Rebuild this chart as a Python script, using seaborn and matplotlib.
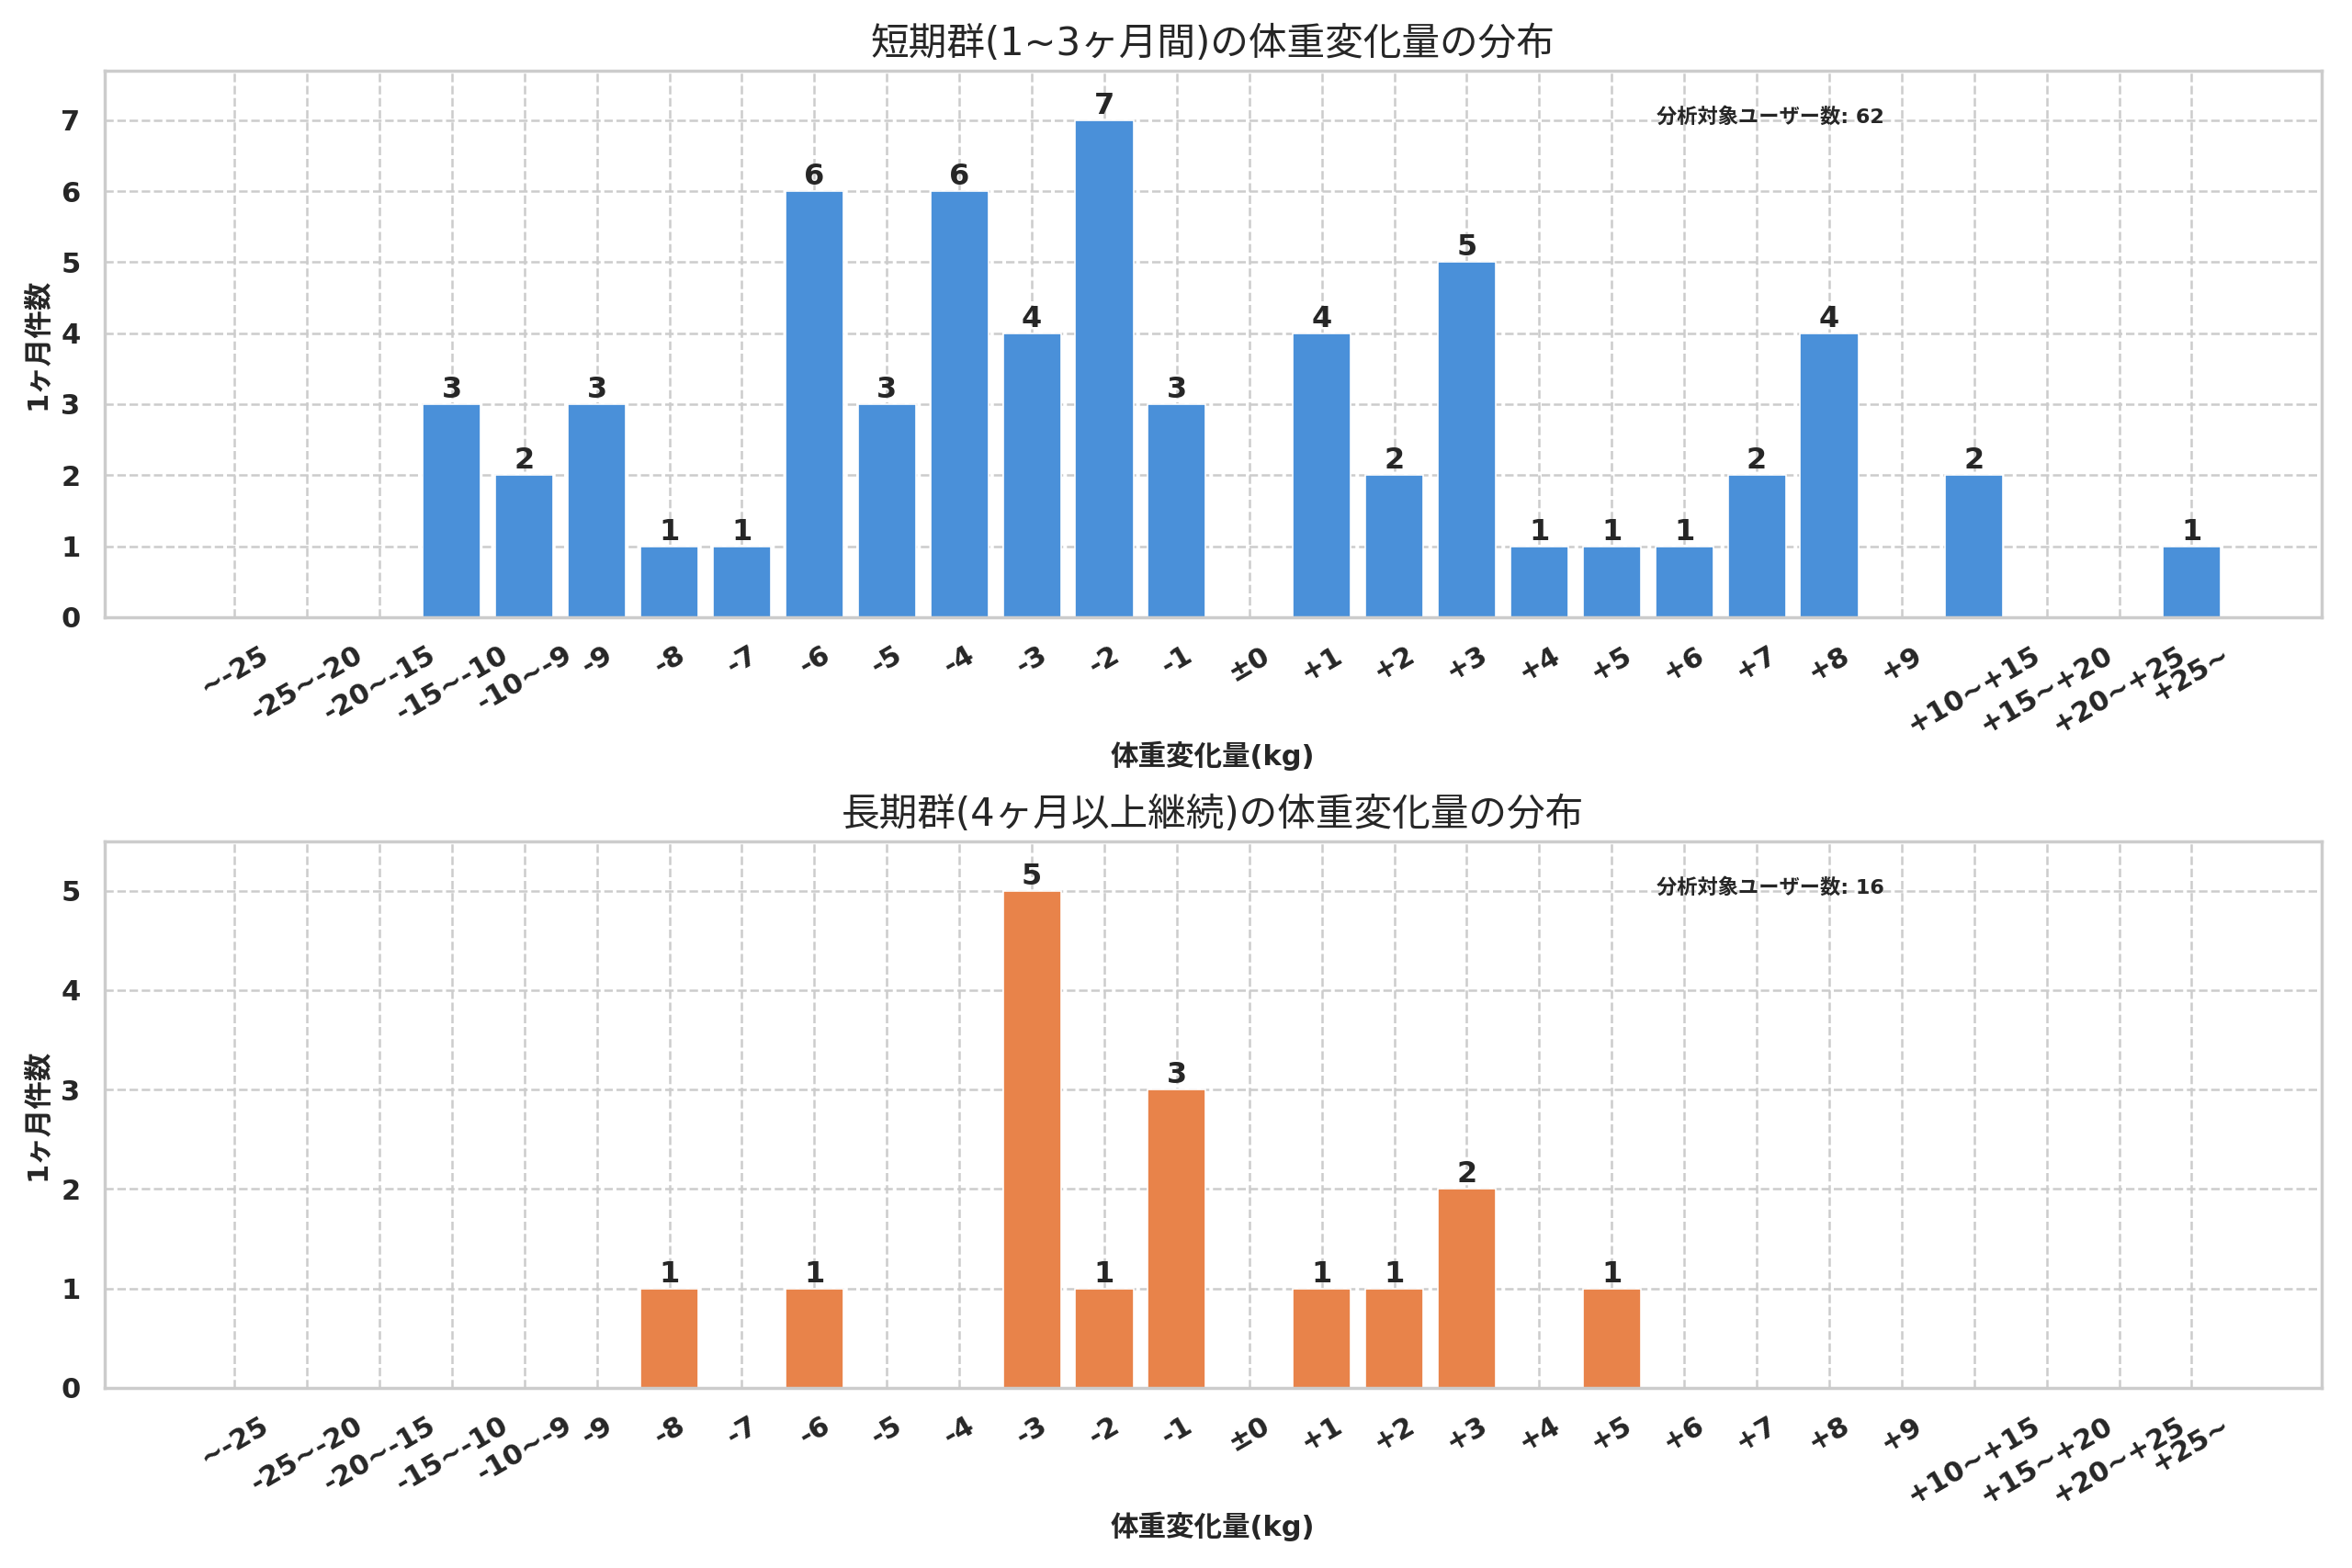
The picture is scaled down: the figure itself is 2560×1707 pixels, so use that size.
import matplotlib
matplotlib.use('Agg')
import matplotlib.pyplot as plt
import seaborn as sns

sns.set_theme(style='whitegrid')
plt.rcParams['font.family'] = ['DejaVu Sans', 'Noto Sans CJK JP']

# bins of weight change (kg)
bins = ['~-25', '-25~-20', '-20~-15', '-15~-10', '-10~-9', '-9', '-8', '-7',
        '-6', '-5', '-4', '-3', '-2', '-1', '±0', '+1', '+2', '+3', '+4',
        '+5', '+6', '+7', '+8', '+9', '+10~+15', '+15~+20', '+20~+25', '+25~']

# counts per bin
short_counts = [0, 0, 0, 3, 2, 3, 1, 1, 6, 3, 6, 4, 7, 3, 0, 4, 2, 5, 1,
                1, 1, 2, 4, 0, 2, 0, 0, 1]
long_counts = [0, 0, 0, 0, 0, 0, 1, 0, 1, 0, 0, 5, 1, 3, 0, 1, 1, 2, 0,
               1, 0, 0, 0, 0, 0, 0, 0, 0]

titles = ['短期群(1~3ヶ月間)の体重変化量の分布',
          '長期群(4ヶ月以上継続)の体重変化量の分布']
colors = ['#4A90D9', '#E8834A']
xlabel = '体重変化量(kg)'
ylabel = '1ヶ月件数'
total_label = '分析対象ユーザー数'


def draw_panel(ax, counts, title, color):
    sns.barplot(x=bins, y=counts, order=bins, color=color, saturation=1,
                width=0.8, edgecolor='white', linewidth=0.6, ax=ax)
    # keep matplotlib-like margins around the bars
    n = len(bins)
    pad = 0.05 * (n - 1 + 0.8)
    ax.set_xlim(-0.4 - pad, n - 1 + 0.4 + pad)
    ax.set_ylim(0, max(counts) * 1.1)

    labels = [str(v) if v else '' for v in counts]
    ax.bar_label(ax.containers[0], labels=labels, padding=0,
                 fontsize=11.5, fontweight='bold', color='#262626')

    ax.set_title(title, fontsize=15)
    ax.set_xlabel(xlabel, fontsize=11, fontweight='bold', labelpad=1)
    ax.set_ylabel(ylabel, fontsize=11, fontweight='bold')
    ax.grid(True, linestyle='--', color='#cccccc', linewidth=0.9)
    ax.set_axisbelow(True)
    ax.tick_params(axis='x', labelrotation=30, labelsize=11)
    ax.tick_params(axis='y', labelsize=11)
    for lab in ax.get_xticklabels() + ax.get_yticklabels():
        lab.set_fontweight('bold')
        lab.set_horizontalalignment('center')
    for lab in ax.get_yticklabels():
        lab.set_horizontalalignment('right')
    ax.text(0.70, 0.915, f'{total_label}: {sum(counts)}',
            transform=ax.transAxes, ha='left', va='center',
            fontsize=8, fontweight='bold', color='#262626')


fig, axes = plt.subplots(2, 1, figsize=(12.8, 8.535), dpi=200)
draw_panel(axes[0], short_counts, titles[0], colors[0])
draw_panel(axes[1], long_counts, titles[1], colors[1])

fig.subplots_adjust(left=0.0445, right=0.987, top=0.955, bottom=0.115,
                    hspace=0.41)
fig.savefig('out.png', dpi=200)
